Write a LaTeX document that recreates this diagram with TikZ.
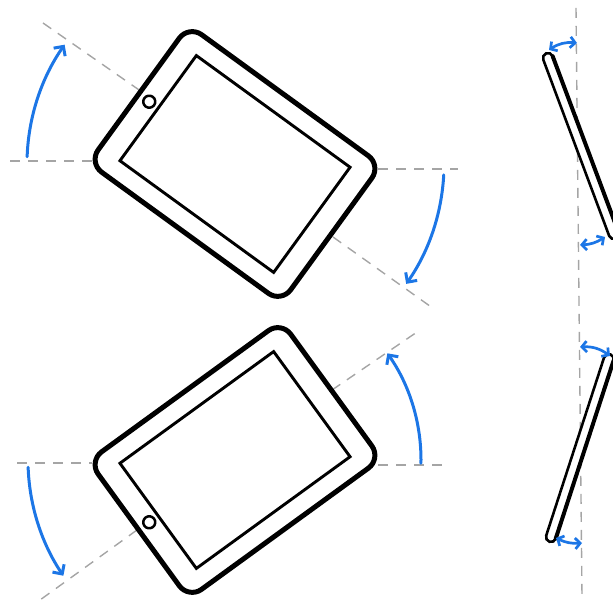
\documentclass[tikz,border=0pt]{standalone}
\usetikzlibrary{arrows.meta}

\definecolor{guidegray}{RGB}{165,165,165}
\definecolor{turnblue}{RGB}{28,118,230}

\tikzset{
  guide/.style={draw=guidegray, line width=1.4pt, dash pattern=on 10pt off 8pt},
  turnarrow/.style={draw=turnblue, line width=3pt, line cap=round,
    -{Straight Barb[length=7pt,width=14pt]}},
  gaparrow/.style={draw=turnblue, line width=2.7pt,
    {Straight Barb[length=5pt,width=11pt]}-{Straight Barb[length=5pt,width=11pt]}},
  % tablet seen from the front: body, screen and home button
  pics/tabletfront/.style={code={
    \draw[line width=5pt, fill=white, rounded corners=16pt]
      (-119,-85) rectangle (119,85);
    \draw[line width=2.9pt] (-95,-65) rectangle (95,65);
    \draw[line width=2.5pt] (-106,0) circle (6pt);
  }},
  % tablet seen edge-on: a thin capsule, heavier along its back
  pics/tabletside/.style={code={
    \draw[line width=2.6pt, fill=white]
      (0,-5) -- (#1,-5) arc[start angle=-90, end angle=90, radius=5pt]
      -- (0,5) arc[start angle=90, end angle=270, radius=5pt] -- cycle;
    \draw[line width=4pt, line cap=round] (0,5) -- (#1,5);
  }}
}

\begin{document}
\begin{tikzpicture}[x=1pt, y=1pt]
  \useasboundingbox (0,0) rectangle (613,604);
  \clip (0,0) rectangle (613,604);

  % centres of the two front views
  \coordinate (ctop) at (235,440);
  \coordinate (cbot) at (235,144);

  % ---------- upper tablet, tilted clockwise ----------
  \draw[guide] (10,443) -- (95,443);
  \draw[guide] (43,581) -- (142,512);
  \draw[guide] (378,435) -- (458,435);
  \draw[guide] (333,367) -- (434,295);
  \pic (tabA) [rotate=-36] at (ctop) {tabletfront};
  \draw[turnarrow] ([shift={(178:208)}]ctop) arc[start angle=178, end angle=145, radius=208pt];
  \draw[turnarrow] ([shift={(-3:209)}]ctop) arc[start angle=-3, end angle=-35, radius=209pt];

  % ---------- lower tablet, tilted counter-clockwise ----------
  \draw[guide] (17,141) -- (92,141);
  \draw[guide] (137,74) -- (40,4);
  \draw[guide] (378,139) -- (445,139);
  \draw[guide] (332,214) -- (420,274);
  \pic (tabB) [rotate=36] at (cbot) {tabletfront};
  \draw[turnarrow] ([shift={(182:207)}]cbot) arc[start angle=182, end angle=214, radius=207pt];
  \draw[turnarrow] ([shift={(-1:186)}]cbot) arc[start angle=-1, end angle=35, radius=186pt];

  % ---------- edge-on views against the vertical reference ----------
  \draw[guide] (576,596) -- (582,8);
  \pic (sideA) [rotate=-69.5] at (548,546) {tabletside=188};
  \pic (sideB) [rotate=72, yscale=-1] at (551,67) {tabletside=187};

  \coordinate (a1) at (549,554);  \coordinate (a2) at (577,561);
  \coordinate (b1) at (580,359);  \coordinate (b2) at (605,367);
  \coordinate (c1) at (580,257);  \coordinate (c2) at (610,248);
  \coordinate (d1) at (556,66);   \coordinate (d2) at (582,61);
  \draw[gaparrow] (a1) to[bend left=20] (a2);
  \draw[gaparrow] (b1) to[bend right=15] (b2);
  \draw[gaparrow] (c1) to[bend left=20] (c2);
  \draw[gaparrow] (d1) to[bend right=15] (d2);
\end{tikzpicture}
\end{document}
